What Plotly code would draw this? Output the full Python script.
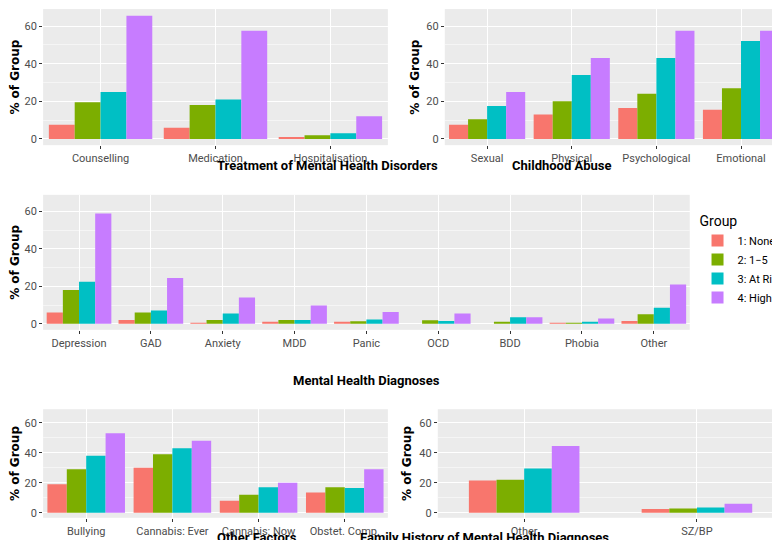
import plotly.graph_objects as go

groups = ["1: None", "2: 1\u22125", "3: At Risk", "4: High Risk"]
colors = ["#F8766D", "#7CAE00", "#00BFC4", "#C77CFF"]

treat_cats = ["Counselling", "Medication", "Hospitalisation"]
treat_vals = [[7.5, 6, 0.5], [19.5, 18, 2], [25, 21, 3], [65.5, 57.5, 12]]

abuse_cats = ["Sexual", "Physical", "Psychological", "Emotional"]
abuse_vals = [[7.5, 13, 16.5, 15.5], [10.5, 20, 24, 27], [17.5, 34, 43, 52], [25, 43, 57.5, 57.5]]

diag_cats = ["Depression", "GAD", "Anxiety", "MDD", "Panic", "OCD", "BDD", "Phobia", "Other"]
diag_vals = [[6, 2, 0.3, 1, 1, 0, 0, 0.2, 1.5],
             [18, 6, 2, 2, 1.3, 1.8, 1, 0.2, 5],
             [22.5, 7, 5.5, 2, 2.3, 1.5, 3.5, 1, 8.5],
             [59, 24.5, 14, 9.8, 6.3, 5.5, 3.5, 2.8, 21]]

other_cats = ["Bullying", "Cannabis: Ever", "Cannabis: Now", "Obstet. Comp."]
other_vals = [[19, 30, 8, 13.5], [29, 39, 12, 17], [38, 43, 17, 16.5], [53, 48, 20, 29]]

fam_cats = ["Other", "SZ/BP"]
fam_vals = [[21.5, 2.5], [22, 2.8], [29.5, 3.5], [44.5, 6]]

panels = [
    (treat_cats, treat_vals, "Treatment of Mental Health Disorders", [0.045, 0.487], [0.746, 0.998]),
    (abuse_cats, abuse_vals, "Childhood Abuse", [0.56, 0.994], [0.746, 0.998]),
    (diag_cats, diag_vals, "Mental Health Diagnoses", [0.045, 0.874], [0.404, 0.654]),
    (other_cats, other_vals, "Other Factors", [0.045, 0.487], [0.056, 0.257]),
    (fam_cats, fam_vals, "Family History of Mental Health Diagnoses", [0.551, 0.994], [0.056, 0.257]),
]
title_y = [1 - 158/540, 1 - 158/540, 1 - 372/540, 1 - 529/540, 1 - 529/540]

fig = go.Figure()
tickfont = dict(family="Roboto", size=11, color="#4D4D4D")
for i, (cats, vals, title, xd, yd) in enumerate(panels):
    n = "" if i == 0 else str(i + 1)
    for g in range(4):
        extra = {}
        if i == 4:
            extra = dict(width=0.16, offset=-0.32 + 0.16 * g)
        fig.add_trace(go.Bar(x=cats, y=vals[g], name=groups[g], marker_color=colors[g],
                             marker_line_width=0, showlegend=(i == 2),
                             xaxis="x" + n, yaxis="y" + n, offsetgroup=str(g), **extra))
    fig.layout["xaxis" + n] = dict(domain=xd, anchor="y" + n, showgrid=True, gridcolor="white",
                                   ticks="outside", ticklen=3, tickcolor="#333", tickfont=tickfont,
                                   categoryorder="array", categoryarray=cats, automargin=False)
    fig.layout["yaxis" + n] = dict(domain=yd, anchor="x" + n, range=[-3.3, 69], gridcolor="white",
                                   tickvals=[0, 20, 40, 60], ticks="outside", ticklen=3,
                                   tickcolor="#333", tickfont=tickfont, zeroline=False, automargin=False,
                                   minor=dict(showgrid=True, gridcolor="#F5F5F5", dtick=10, tick0=10),
                                   title=dict(text="<b>% of Group</b>", font=dict(family="DejaVu Sans", size=12, color="black"), standoff=4))
    fig.add_annotation(text="<b>" + title + "</b>", x=(xd[0] + xd[1]) / 2, y=title_y[i],
                       xref="paper", yref="paper", showarrow=False, yanchor="middle",
                       font=dict(family="Roboto", size=13, color="black"))

fig.update_layout(
    width=780, height=540, margin=dict(l=0, r=0, t=0, b=0, autoexpand=False),
    paper_bgcolor="white", plot_bgcolor="#EBEBEB",
    barmode="group", bargap=0.1, bargroupgap=0,
    legend=dict(title=dict(text="Group", font=dict(size=14)), x=0.884, y=0.63, yanchor="top",
                font=dict(family="Roboto", size=11, color="black"), itemsizing="constant",
                tracegroupgap=0, itemwidth=30),
)
fig.write_html("out.html")
